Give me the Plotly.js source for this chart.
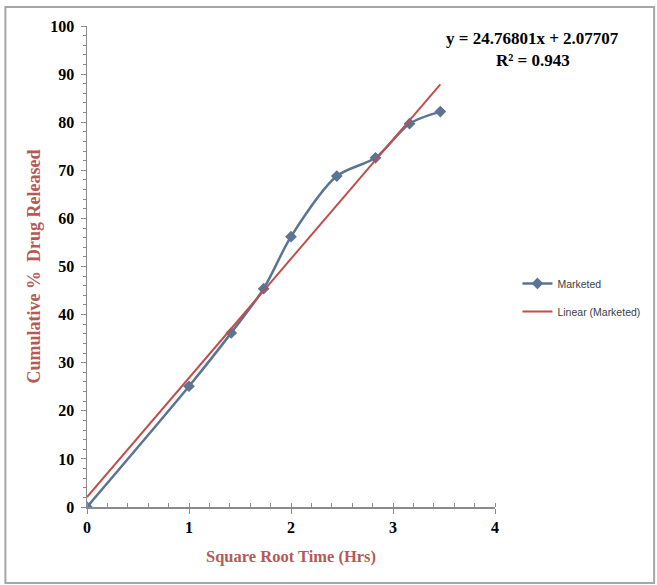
<!DOCTYPE html>
<html>
<head>
<meta charset="utf-8">
<script src="https://cdn.plot.ly/plotly-3.0.1.min.js"></script>
<style>
html,body{margin:0;padding:0;background:#fff;}
#chart{width:657px;height:585px;}
</style>
</head>
<body>
<div id="chart"></div>
<script>
// Data
const sqrtTime = [0, 1, 1.414, 1.732, 2, 2.449, 2.828, 3.162, 3.464];
const released = [0, 25.1, 36.2, 45.4, 56.2, 68.8, 72.6, 79.7, 82.2];
const slope = 24.76801;
const intercept = 2.07707;
const r2 = 0.943;
const xTickVals = [0, 1, 2, 3, 4];
const yTickVals = [0, 10, 20, 30, 40, 50, 60, 70, 80, 90, 100];

const trendX = [sqrtTime[0], sqrtTime[sqrtTime.length - 1]];
const trendY = trendX.map(x => slope * x + intercept);

const serif = "'Liberation Serif', 'Times New Roman', serif";
const blue = '#5b7493';
const red = '#bf4f4c';
const titleRed = '#b55a57';

const traces = [
  {
    x: sqrtTime, y: released, name: 'Marketed', type: 'scatter', mode: 'lines+markers',
    line: {color: blue, width: 2.5, shape: 'spline', smoothing: 0.8},
    marker: {symbol: 'diamond', size: 9, color: blue},
    legendgroup: 'a'
  },
  {
    x: trendX, y: trendY, name: 'Linear (Marketed)', type: 'scatter', mode: 'lines',
    line: {color: red, width: 2},
    legendgroup: 'b'
  }
];

const layout = {
  width: 657, height: 585,
  margin: {l: 87, r: 160, t: 26, b: 78},
  paper_bgcolor: '#fff', plot_bgcolor: '#fff',
  showlegend: true,
  legend: {
    x: 1.055, y: 0.495, xanchor: 'left', yanchor: 'top',
    font: {family: "'Liberation Sans', Arial, sans-serif", size: 10.5, color: '#404040'},
    tracegroupgap: 9, bgcolor: 'rgba(0,0,0,0)'
  },
  xaxis: {
    range: [0, 4], tickvals: xTickVals, showgrid: false, zeroline: false,
    showline: true, linecolor: '#8a8a8a', linewidth: 1.5,
    ticks: 'outside', ticklen: 5, tickcolor: '#8a8a8a',
    minor: {dtick: 0.2, ticks: 'inside', ticklen: 4, tickcolor: '#8a8a8a', showgrid: false},
    tickfont: {family: serif, size: 16, color: '#000', weight: 'bold'},
    title: {text: '<b>Square Root Time (Hrs)</b>', font: {family: serif, size: 16.5, color: titleRed}, standoff: 15}
  },
  yaxis: {
    range: [0, 100], tickvals: yTickVals, showgrid: false, zeroline: false,
    showline: true, linecolor: '#8a8a8a', linewidth: 1.5,
    ticks: 'outside', ticklen: 5, tickcolor: '#8a8a8a',
    minor: {dtick: 2, ticks: 'outside', ticklen: 3, tickcolor: '#8a8a8a', showgrid: false},
    tickfont: {family: serif, size: 16, color: '#000', weight: 'bold'},
    ticklabelstandoff: 3,
    title: {text: '<b>Cumulative %  Drug Released</b>', font: {family: serif, size: 18, color: titleRed}, standoff: 5}
  },
  annotations: [
    {
      xref: 'paper', yref: 'paper', x: 1.093, y: 0.975, xanchor: 'center', yanchor: 'middle',
      text: '<b>y = ' + slope.toFixed(5) + 'x + ' + intercept.toFixed(5) + '</b>',
      showarrow: false, font: {family: serif, size: 17, color: '#000'}
    },
    {
      xref: 'paper', yref: 'paper', x: 1.093, y: 0.929, xanchor: 'center', yanchor: 'middle',
      text: '<b>R² = ' + r2.toFixed(3) + '</b>',
      showarrow: false, font: {family: serif, size: 17, color: '#000'}
    }
  ],
  shapes: [
    {
      type: 'rect', xref: 'paper', yref: 'paper', layer: 'below',
      x0: -0.2, x1: 1.39, y0: -0.158, y1: 1.0395,
      line: {color: '#a6a6a6', width: 2}, fillcolor: 'rgba(0,0,0,0)'
    }
  ]
};

Plotly.newPlot('chart', traces, layout, {displayModeBar: false, staticPlot: true});
</script>
</body>
</html>
